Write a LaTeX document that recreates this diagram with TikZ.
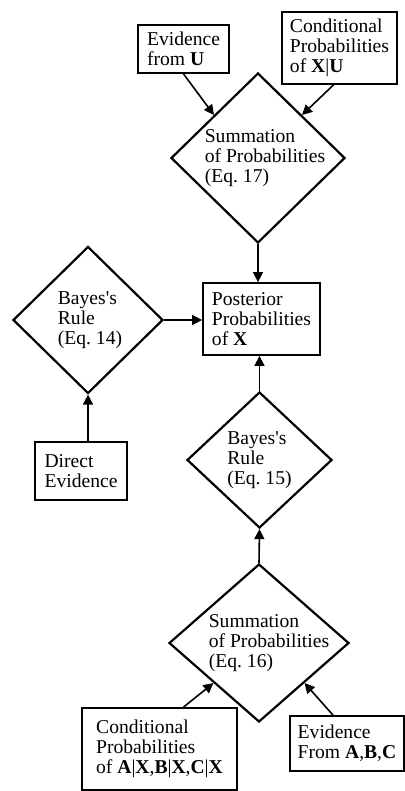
\documentclass[tikz,border=0pt]{standalone}
\usepackage{fontspec}
\setmainfont{Liberation Serif}
\usetikzlibrary{shapes.geometric,arrows.meta}

\begin{document}
\begin{tikzpicture}[x=0.5pt,y=-0.5pt,
        font=\fontsize{9.8}{10}\selectfont,
        infobox/.style={draw,line width=0.9pt,align=left,inner sep=0pt},
        decision/.style={draw,diamond,line width=1.1pt,inner sep=0pt},
        dtext/.style={align=left,inner sep=0pt},
        flow/.style={line width=0.8pt,-{Triangle[length=5pt,width=5pt]}}]
        \useasboundingbox (0,0) rectangle (405,791);

        % evidence and conditionals coming in from above
        \node[infobox,minimum width=45.5pt,minimum height=24pt] (evu) at (183.5,49) {Evidence\\from \textbf{U}};
        \node[infobox,minimum width=57.5pt,minimum height=36pt] (cxu) at (339.5,48) {Conditional\\Probabilities\\of \textbf{X}|\textbf{U}};
        \node[decision,minimum width=87pt,minimum height=85pt,
            label={[dtext,xshift=3.5pt]center:Summation\\of Probabilities\\(Eq.~17)}] (sum17) at (258,158) {};

        % the posterior in the middle
        \node[infobox,minimum width=58.5pt,minimum height=36pt] (post) at (261.5,319) {Posterior\\Probabilities\\of \textbf{X}};
        \node[decision,minimum width=75pt,minimum height=73.5pt,
            label={[dtext,xshift=1pt]center:Bayes\textquotesingle s\\Rule\\(Eq.~14)}] (bayes14) at (88,320) {};
        \node[infobox,minimum width=46pt,minimum height=29pt] (direct) at (81,471) {Direct\\Evidence};
        \node[decision,minimum width=72.5pt,minimum height=68pt,
            label={[dtext]center:Bayes\textquotesingle s\\Rule\\(Eq.~15)}] (bayes15) at (259.5,460) {};

        % evidence and conditionals coming in from below
        \node[decision,minimum width=90pt,minimum height=79pt,
            label={[dtext,xshift=5pt]center:Summation\\of Probabilities\\(Eq.~16)}] (sum16) at (259,643) {};
        \node[infobox,minimum width=77.5pt,minimum height=41pt] (cpa) at (159.5,749) {Conditional\\Probabilities\\of \textbf{A}|\textbf{X},\textbf{B}|\textbf{X},\textbf{C}|\textbf{X}};
        \node[infobox,minimum width=57pt,minimum height=27.5pt] (evabc) at (347,743.5) {Evidence\\From \textbf{A},\textbf{B},\textbf{C}};

        \draw[flow] (evu.south) -- (sum17.north west);
        \draw[flow] ([xshift=-3pt]cxu.south) -- (sum17.north east);
        \draw[flow] (sum17.south) -- (sum17.south |- post.north);
        \draw[flow] (bayes14.east) -- (bayes14.east -| post.west);
        \draw[flow] (bayes14.south |- direct.north) -- (bayes14.south);
        \draw[flow] (bayes15.north) -- (bayes15.north |- post.south);
        \draw[flow] (sum16.north) -- (bayes15.south);
        \draw[flow] ([xshift=12pt]cpa.north) -- (sum16.south west);
        \draw[flow] ([xshift=-7pt]evabc.north) -- (sum16.south east);
    \end{tikzpicture}
\end{document}
